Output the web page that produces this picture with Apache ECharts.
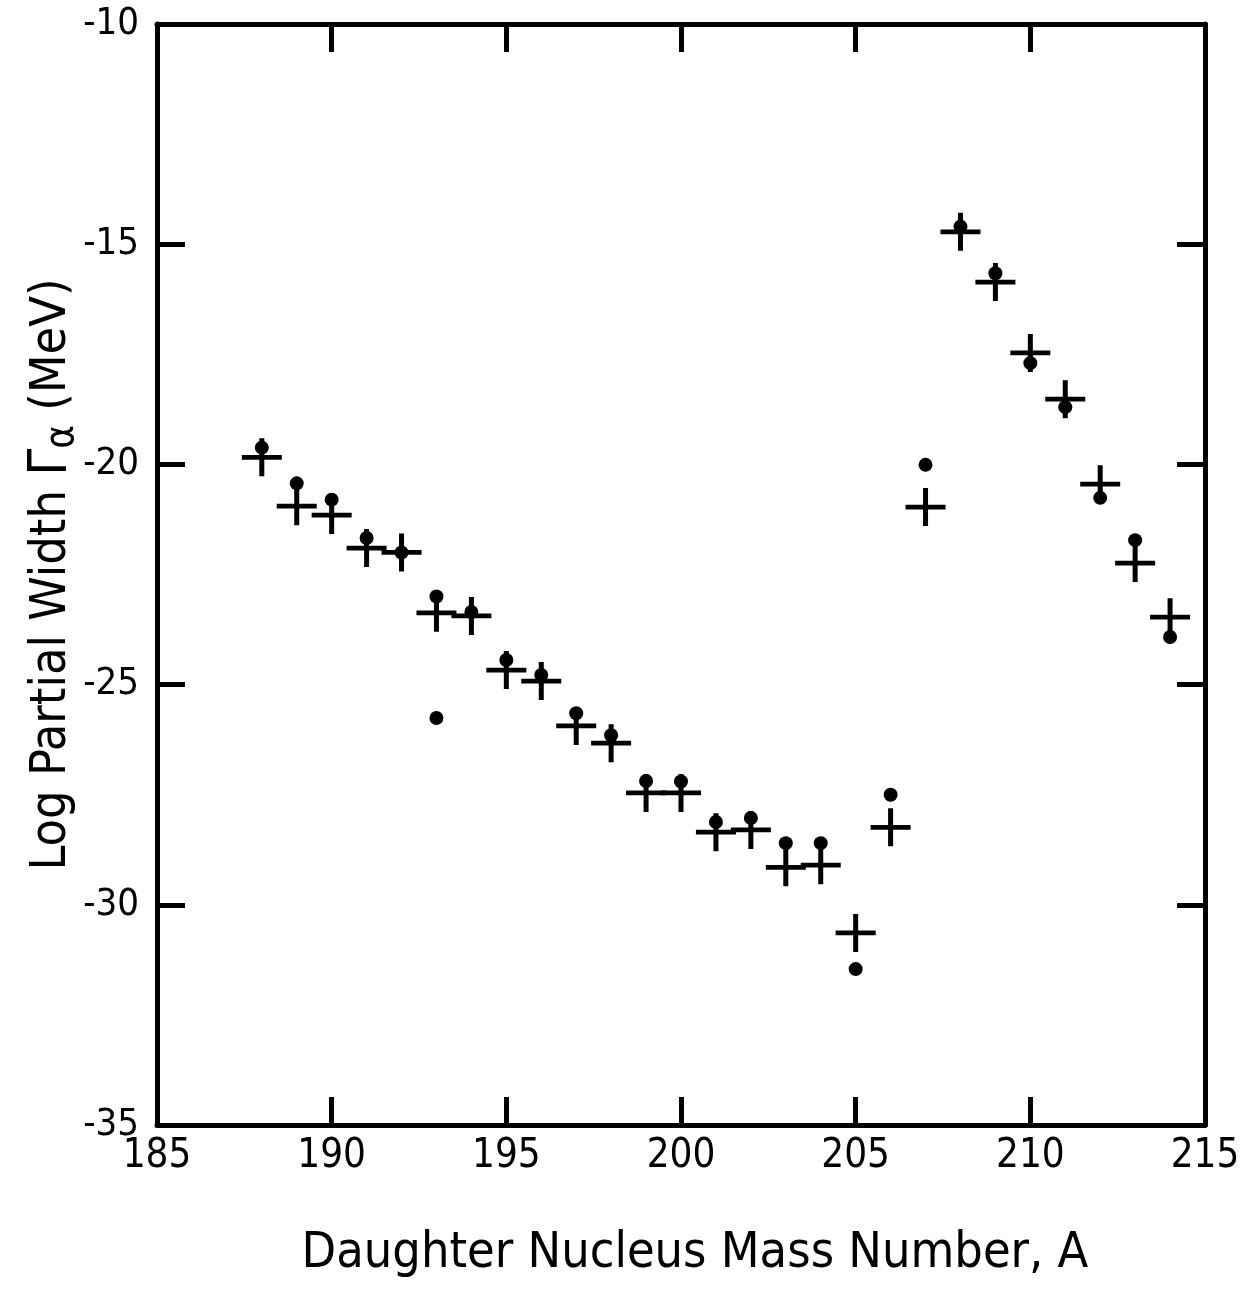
<!DOCTYPE html>
<html>
<head>
<meta charset="utf-8">
<script src="https://cdn.jsdelivr.net/npm/echarts@6/dist/echarts.min.js"></script>
<style>
  html, body { margin: 0; padding: 0; background: #fff; }
  #chart { width: 1250px; height: 1289px; }
</style>
</head>
<body>
<div id="chart"></div>
<script>
// daughter nucleus mass number A
var massNumbers = [188, 189, 190, 191, 192, 193, 194, 195, 196, 197, 198, 199, 200, 201,
    202, 203, 204, 205, 206, 207, 208, 209, 210, 211, 212, 213, 214];
// calculated values (crosses)
var calcWidth = [-19.84, -20.95, -21.15, -21.9, -22.0, -23.37, -23.44, -24.67, -24.92, -25.94,
    -26.33, -27.46, -27.46, -28.35, -28.3, -29.15, -29.1, -30.64, -28.24, -20.97,
    -14.72, -15.86, -17.47, -18.52, -20.45, -22.24, -23.47];
// experimental values (dots)
var expWidth = [-19.62, -20.43, -20.8, -21.67, -22.0, -23.0, -23.35, -24.44, -24.78, -25.65,
    -26.15, -27.19, -27.2, -28.12, -28.03, -28.6, -28.6, -31.46, -27.5, -20.01,
    -14.6, -15.66, -17.7, -18.7, -20.76, -21.72, -23.92];
// second experimental point at A = 193
var extraMass = [193];
var extraWidth = [-25.76];

var xTicks = [185, 190, 195, 200, 205, 210, 215];
var yTicks = [-35, -30, -25, -20, -15, -10];

var font = '"DejaVu Sans Condensed", "DejaVu Sans", sans-serif';
var crossPath = 'path://M17.5,0H22.5V17.5H40V22.5H22.5V40H17.5V22.5H0V17.5H17.5Z';

function pairs(xs, ys) {
    var out = [];
    for (var i = 0; i < xs.length; i++) {
        out.push([xs[i], ys[i]]);
    }
    return out;
}

function frameAxis(pos, min, max, interval, showLabels, extra) {
    var ax = {
        type: 'value',
        position: pos,
        min: min,
        max: max,
        interval: interval,
        axisLine: { show: true, onZero: false, lineStyle: { color: '#000', width: 5 } },
        axisTick: { show: true, inside: true, length: 28, lineStyle: { color: '#000', width: 5 } },
        axisLabel: {
            show: showLabels,
            color: '#000',
            fontFamily: font,
            fontSize: 40
        },
        splitLine: { show: false }
    };
    for (var k in extra) ax[k] = extra[k];
    return ax;
}

var chart = echarts.init(document.getElementById('chart'));

var xBottom = frameAxis('bottom', xTicks[0], xTicks[xTicks.length - 1], 5, true, {
    name: 'Daughter Nucleus Mass Number, A',
    nameLocation: 'middle',
    nameGap: 104,
    nameMoveOverlap: false,
    nameTextStyle: { color: '#000', fontFamily: font, fontSize: 50, padding: [0, 0, 0, 28] }
});
xBottom.axisLabel.margin = 12;

var yLeft = frameAxis('left', yTicks[0], yTicks[yTicks.length - 1], 5, true, {
    name: '{t|Log Partial Width }{g|Γ}{a|α}{t| (MeV)}',
    nameLocation: 'middle',
    nameRotate: 90,
    nameGap: 74,
    nameMoveOverlap: false,
    nameTextStyle: {
        color: '#000', fontFamily: font, fontSize: 50,
        rich: {
            t: { fontFamily: font, fontSize: 50, lineHeight: 62, color: '#000', verticalAlign: 'middle' },
            g: { fontFamily: font, fontSize: 54, lineHeight: 62, color: '#000', verticalAlign: 'middle' },
            a: { fontFamily: font, fontSize: 40, lineHeight: 40, color: '#000', verticalAlign: 'bottom' }
        }
    }
});
yLeft.axisLabel.margin = 18;
yLeft.axisLabel.fontSize = 38;

chart.setOption({
    backgroundColor: '#fff',
    animation: false,
    grid: { left: 157, right: 45, top: 24, bottom: 164, outerBoundsMode: 'none' },
    xAxis: [
        xBottom,
        frameAxis('top', xTicks[0], xTicks[xTicks.length - 1], 5, false, {})
    ],
    yAxis: [
        yLeft,
        frameAxis('right', yTicks[0], yTicks[yTicks.length - 1], 5, false, {})
    ],
    series: [
        {
            name: 'experiment',
            type: 'scatter',
            symbol: 'circle',
            symbolSize: 14,
            itemStyle: { color: '#000', opacity: 1 },
            data: pairs(massNumbers, expWidth).concat(pairs(extraMass, extraWidth))
        },
        {
            name: 'calculation',
            type: 'scatter',
            symbol: crossPath,
            symbolSize: [40, 38],
            itemStyle: { color: '#000', opacity: 1 },
            data: pairs(massNumbers, calcWidth)
        }
    ]
});
</script>
</body>
</html>
